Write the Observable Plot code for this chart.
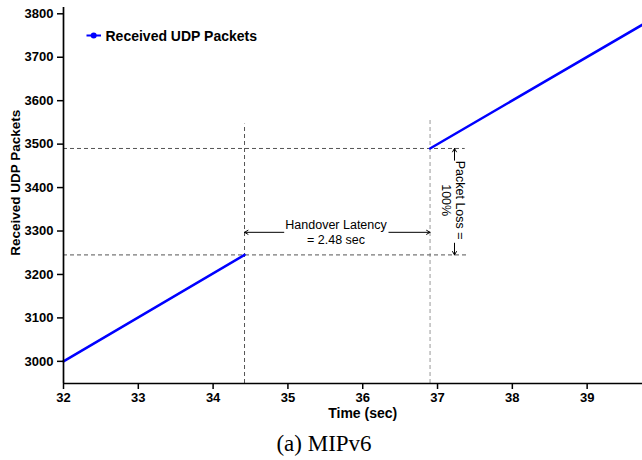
<!DOCTYPE html>
<html><head><meta charset="utf-8">
<script src="https://cdn.jsdelivr.net/npm/d3@7"></script>
<script src="https://cdn.jsdelivr.net/npm/@observablehq/plot@0.6"></script>
<style>
body{margin:0;background:#fff;}
#chart svg{display:block;}
#cap{width:642px;height:35px;box-sizing:border-box;padding-left:6px;margin-top:0;padding-top:7px;text-align:center;font-family:"Liberation Serif","Times New Roman",serif;font-size:23px;line-height:23px;color:#000;}
</style>
</head><body>
<div id="chart"></div>
<div id="cap">(a) MIPv6</div>
<script>
// ---- data ----
const seriesName = "Received UDP Packets";
const xTicks = [32, 33, 34, 35, 36, 37, 38, 39];
const yTicks = [3000, 3100, 3200, 3300, 3400, 3500, 3600, 3700, 3800];
const beforeTime = [32, 34.42];
const beforePackets = [3000, 3245];
const afterTime = [36.90, 39.74];
const afterPackets = [3490, 3775];
const handoverStart = 34.42, handoverEnd = 36.90;
const lastBefore = 3245, firstAfter = 3490;
const latencyLabel = "Handover Latency\n= 2.48 sec";
const lossLabel = "Packet Loss =\n100%";
const xLabel = "Time (sec)";
const yLabel = "Received UDP Packets";

const rows = [
  ...beforeTime.map((t, i) => ({t, p: beforePackets[i], seg: "a"})),
  ...afterTime.map((t, i) => ({t, p: afterPackets[i], seg: "b"}))
];

const plot = Plot.plot({
  width: 642, height: 425,
  marginLeft: 63, marginRight: 0, marginTop: 7, marginBottom: 42,
  style: {fontFamily: "'Liberation Sans', Arial, sans-serif", fontSize: "13px", fontWeight: "bold", color: "#000", background: "#fff"},
  x: {domain: [32, 39.74]},
  y: {domain: [2949, 3814.5]},
  marks: [
    // dashed guides
    Plot.ruleX([handoverStart], {y1: 2949, y2: 3546, stroke: "#555", strokeDasharray: "4,3", strokeWidth: 1}),
    Plot.ruleX([handoverEnd], {y1: 2949, y2: 3556, stroke: "#aaa", strokeDasharray: "4,3", strokeWidth: 1.2}),
    Plot.ruleY([firstAfter], {x1: 32, x2: 37.37, stroke: "#555", strokeDasharray: "4,3", strokeWidth: 1}),
    Plot.ruleY([lastBefore], {x1: 32, x2: 37.42, stroke: "#555", strokeDasharray: "4,3", strokeWidth: 1}),
    // arrows
    Plot.arrow([
      {x1: 34.945, y1: 3297, x2: handoverStart, y2: 3297},
      {x1: 36.35, y1: 3297, x2: handoverEnd, y2: 3297},
      {x1: 37.227, y1: 3463, x2: 37.227, y2: firstAfter},
      {x1: 37.227, y1: 3272, x2: 37.227, y2: lastBefore}
    ], {x1: "x1", y1: "y1", x2: "x2", y2: "y2", stroke: "#000", strokeWidth: 1, headLength: 6}),
    Plot.text([{x: 35.643, y: 3299.5}], {x: "x", y: "y", text: () => latencyLabel, fontSize: 12.5, fontWeight: "normal", lineHeight: 1.2, textAnchor: "middle", lineAnchor: "middle", fill: "#000"}),
    Plot.text([{x: 37.214, y: 3371}], {x: "x", y: "y", text: () => lossLabel, fontSize: 12.5, fontWeight: "normal", lineHeight: 1.12, rotate: 90, textAnchor: "middle", lineAnchor: "middle", fill: "#000"}),
    // data
    Plot.line(rows, {x: "t", y: "p", z: "seg", stroke: "#0000ff", strokeWidth: 2.5}),
    // axes
    Plot.axisX({ticks: xTicks, tickSize: 6, tickPadding: 3, tickFormat: d => String(d), label: null, strokeWidth: 1.5, fontSize: 13}),
    Plot.axisY({ticks: yTicks, tickSize: 6, tickPadding: 4, tickFormat: d => String(d), label: null, strokeWidth: 1.5, fontSize: 13}),
    Plot.ruleY([2949], {stroke: "#000", strokeWidth: 1.7}),
    Plot.ruleX([32], {stroke: "#000", strokeWidth: 1.7}),
    Plot.text([{x: 36}], {x: "x", text: () => xLabel, frameAnchor: "bottom", dy: 25, lineAnchor: "top", fontSize: 14, fontWeight: "bold"}),
    Plot.text([{y: 3411}], {y: "y", text: () => yLabel, frameAnchor: "left", dx: -48, rotate: -90, textAnchor: "middle", lineAnchor: "middle", fontSize: 13.5, fontWeight: "bold"})
  ]
});

// legend
const svg = d3.select(plot);
const lg = svg.append("g").attr("class", "legend").attr("text-anchor", "start");
lg.append("line").attr("x1", 86.5).attr("x2", 101).attr("y1", 35.5).attr("y2", 35.5).attr("stroke", "#0000ff").attr("stroke-width", 2);
lg.append("circle").attr("cx", 93.7).attr("cy", 35.5).attr("r", 3).attr("fill", "#0000ff");
lg.append("text").attr("x", 105.5).attr("y", 40.5).attr("text-anchor", "start").attr("font-size", 14).attr("font-weight", "bold").attr("fill", "#000").text(seriesName);

document.getElementById("chart").appendChild(plot);
</script>
</body></html>
